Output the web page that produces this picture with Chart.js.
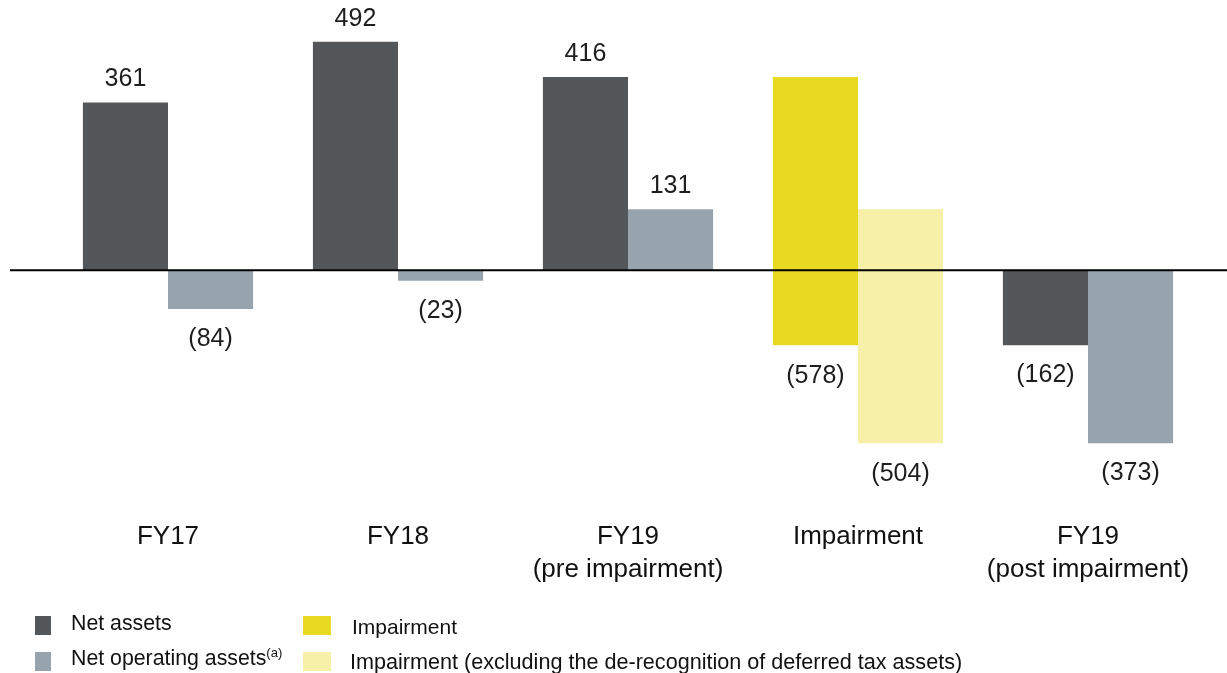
<!DOCTYPE html>
<html>
<head>
<meta charset="utf-8">
<script src="https://cdn.jsdelivr.net/npm/chart.js@4/dist/chart.umd.min.js"></script>
<style>
  html, body { margin: 0; padding: 0; background: #ffffff; }
  #wrap { position: relative; width: 1227px; height: 673px; overflow: hidden; font-family: "Liberation Sans", Arial, sans-serif; }
  canvas { position: absolute; left: 0; top: 0; }
  .sw { position: absolute; }
  .lt { position: absolute; font-size: 21px; line-height: 24px; color: #111; white-space: nowrap; }
  .lt sup { font-size: 13px; vertical-align: 0; position: relative; top: -8px; }
</style>
</head>
<body>
<div id="wrap">
  <canvas id="c" width="1227" height="673"></canvas>
  <div class="sw" style="left:35px;top:616px;width:16px;height:19px;background:#53575a"></div>
  <div class="lt" style="left:71px;top:611px;font-size:21.3px">Net assets</div>
  <div class="sw" style="left:35px;top:652px;width:16px;height:19px;background:#98a4ad"></div>
  <div class="lt" style="left:71px;top:646px;font-size:21.3px">Net operating assets<sup>(a)</sup></div>
  <div class="sw" style="left:303px;top:616px;width:28px;height:19px;background:#e8d923"></div>
  <div class="lt" style="left:352px;top:615px">Impairment</div>
  <div class="sw" style="left:303px;top:652px;width:28px;height:19px;background:#f6f0a8"></div>
  <div class="lt" style="left:350px;top:650px;font-size:21.6px">Impairment (excluding the de-recognition of deferred tax assets)</div>
</div>
<script>
const categories = [['FY17'], ['FY18'], ['FY19', '(pre impairment)'], ['Impairment'], ['FY19', '(post impairment)']];
const netAssets = [361, 492, 416, null, -162];
const netOperatingAssets = [-84, -23, 131, null, -373];
const impairment = [null, null, null, [-162, 416], null];
const impairmentExDta = [null, null, null, [-373, 131], null];

const FONT = '"Liberation Sans", Arial, sans-serif';

const zeroLine = {
  id: 'zeroLine',
  afterDatasetsDraw(chart) {
    const ctx = chart.ctx;
    const y = chart.scales.y.getPixelForValue(0);
    ctx.save();
    ctx.strokeStyle = '#000';
    ctx.lineWidth = 2;
    ctx.beginPath();
    ctx.moveTo(10, y);
    ctx.lineTo(chart.width, y);
    ctx.stroke();
    ctx.restore();
  }
};

const valueLabels = {
  id: 'valueLabels',
  afterDatasetsDraw(chart) {
    const ctx = chart.ctx;
    const ys = chart.scales.y;
    ctx.save();
    ctx.font = '25px ' + FONT;
    ctx.fillStyle = '#1e1e1e';
    ctx.textAlign = 'center';
    ctx.textBaseline = 'middle';
    chart.data.datasets.forEach((ds, di) => {
      const meta = chart.getDatasetMeta(di);
      ds.data.forEach((v, i) => {
        if (v === null || v === undefined) return;
        const el = meta.data[i];
        let text, y;
        if (Array.isArray(v)) {
          text = '(' + Math.abs(v[1] - v[0]) + ')';
          y = ys.getPixelForValue(Math.min(v[0], v[1])) + 31;
        } else if (v >= 0) {
          text = String(v);
          y = ys.getPixelForValue(v) - 23;
        } else {
          text = '(' + Math.abs(v) + ')';
          y = ys.getPixelForValue(v) + 30;
        }
        ctx.fillText(text, el.x, y);
      });
    });
    ctx.restore();
  }
};

new Chart(document.getElementById('c'), {
  type: 'bar',
  data: {
    labels: categories,
    datasets: [
      { label: 'Net assets', data: netAssets, backgroundColor: '#53575a' },
      { label: 'Net operating assets', data: netOperatingAssets, backgroundColor: '#98a4ad' },
      { label: 'Impairment', data: impairment, backgroundColor: '#e8d923' },
      { label: 'Impairment (excluding the de-recognition of deferred tax assets)', data: impairmentExDta, backgroundColor: '#f6f0a8' }
    ]
  },
  options: {
    responsive: false,
    animation: false,
    devicePixelRatio: 1,
    layout: { padding: { left: 53, right: 24, top: 38, bottom: 0 } },
    datasets: { bar: { skipNull: true, categoryPercentage: 0.74, barPercentage: 1.0, borderWidth: 0 } },
    plugins: { legend: { display: false }, tooltip: { enabled: false } },
    scales: {
      x: {
        grid: { display: false },
        border: { display: false },
        afterFit(scale) { scale.height = 170.75; },
        ticks: {
          autoSkip: false,
          maxRotation: 0,
          padding: 10,
          color: '#111',
          font: { family: FONT, size: 26, lineHeight: 1.27 }
        }
      },
      y: {
        display: false,
        min: -500,
        max: 500
      }
    }
  },
  plugins: [zeroLine, valueLabels]
});
</script>
</body>
</html>
